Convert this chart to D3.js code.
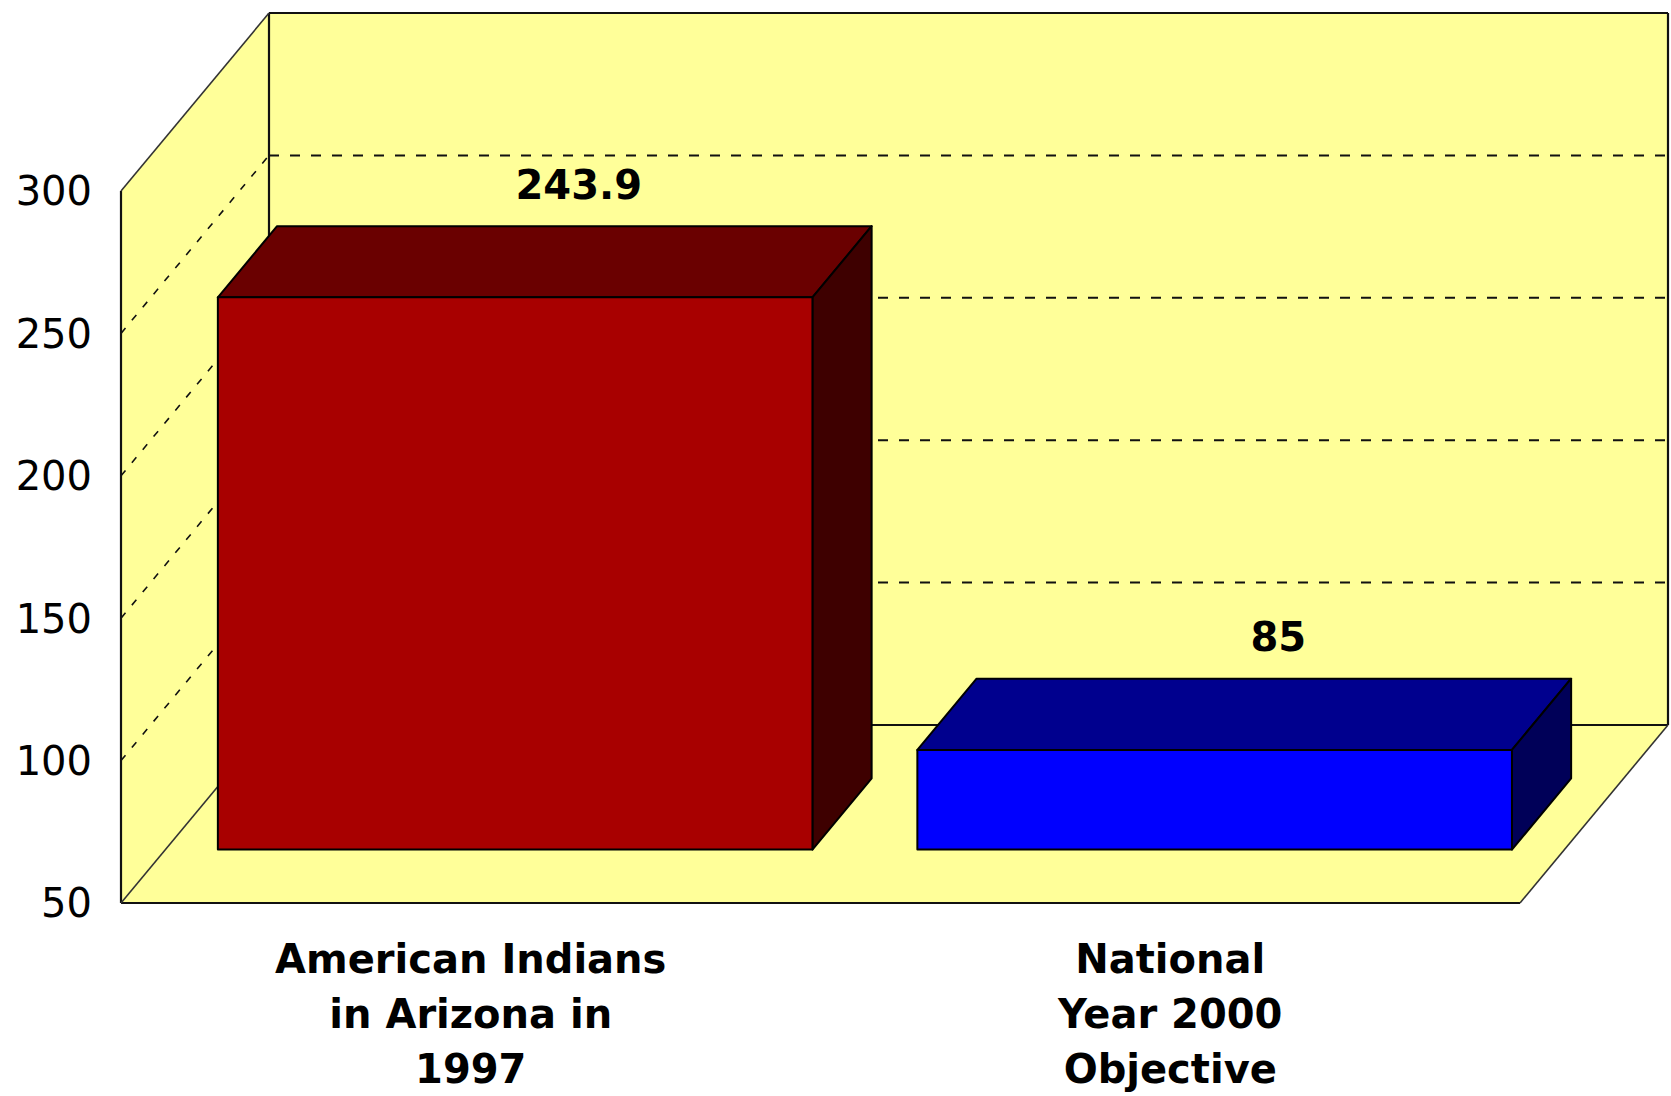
<!DOCTYPE html>
<html>
<head>
<meta charset="utf-8">
<script src="https://cdn.jsdelivr.net/npm/d3@7"></script>
<style>
    body { margin: 0; background: #fff; }
    svg { display: block; }
</style>
</head>
<body>
<svg width="1671" height="1096"></svg>
<script>
// chart data
var categories = ["American Indians in Arizona in 1997", "National Year 2000 Objective"];
var categoryLines = [["American Indians", "in Arizona in", "1997"], ["National", "Year 2000", "Objective"]];
var values = [243.9, 85];
var valueLabels = ["243.9", "85"];
var tickValues = [50, 100, 150, 200, 250, 300];
var gridValues = [100, 150, 200, 250];

var faceColors = [
    { front: "#a80000", top: "#6a0000", side: "#3e0000" },
    { front: "#0000ff", top: "#00008e", side: "#000058" }
];

// 3d box geometry (front plane + depth vector)
var left = 121, right = 1520;
var depthX = 148, depthY = -178;
var barFront = 0.3, barBack = 0.7;

var svg = d3.select("svg");

var y = d3.scaleLinear().domain([50, 300]).range([903, 191]);
var x = d3.scaleBand().domain(categories).range([left, right])
    .paddingInner(0.15).paddingOuter(0.075);

function pt(px, py, d) {
    return [px + depthX * d, py + depthY * d];
}

function poly(points, fill) {
    return svg.append("polygon")
        .attr("points", points.map(function(p) { return p.join(","); }).join(" "))
        .attr("fill", fill);
}

var yMin = y(50), yMax = y(300);

// walls and floor
poly([pt(left, yMin, 0), pt(left, yMax, 0), pt(left, yMax, 1), pt(left, yMin, 1)], "#ffff99");
poly([pt(left, yMax, 1), pt(right, yMax, 1), pt(right, yMin, 1), pt(left, yMin, 1)], "#ffff99");
poly([pt(left, yMin, 0), pt(left, yMin, 1), pt(right, yMin, 1), pt(right, yMin, 0)], "#ffff99");

// gridlines on back wall and left wall
var grid = svg.append("g")
    .attr("stroke", "#111")
    .attr("stroke-width", 2)
    .attr("stroke-dasharray", "10,11");
grid.selectAll("line.back").data(gridValues).enter()
    .append("line")
    .attr("x1", left + depthX).attr("x2", right + depthX)
    .attr("y1", function(d) { return y(d) + depthY; })
    .attr("y2", function(d) { return y(d) + depthY; });
grid.selectAll("line.side").data(gridValues).enter()
    .append("line")
    .attr("stroke-dasharray", "7,10")
    .attr("stroke-width", 1.6)
    .attr("x1", left).attr("x2", left + depthX)
    .attr("y1", function(d) { return y(d); })
    .attr("y2", function(d) { return y(d) + depthY; });

// wall outlines
var edges = [
    [pt(left, yMax, 1), pt(right, yMax, 1)],
    [pt(right, yMax, 1), pt(right, yMin, 1)],
    [pt(left, yMax, 1), pt(left, yMin, 1)],
    [pt(left, yMin, 1), pt(right, yMin, 1)],
    [pt(left, yMax, 0), pt(left, yMin, 0)],
    [pt(left, yMin, 0), pt(right, yMin, 0)]
];
svg.append("g").selectAll("line").data(edges).enter()
    .append("line")
    .attr("x1", function(d) { return d[0][0]; })
    .attr("y1", function(d) { return d[0][1]; })
    .attr("x2", function(d) { return d[1][0]; })
    .attr("y2", function(d) { return d[1][1]; })
    .attr("stroke", "#111")
    .attr("stroke-width", 2.2);
var thinEdges = [
    [pt(left, yMax, 0), pt(left, yMax, 1)],
    [pt(left, yMin, 0), pt(left, yMin, 1)],
    [pt(right, yMin, 0), pt(right, yMin, 1)]
];
svg.append("g").selectAll("line").data(thinEdges).enter()
    .append("line")
    .attr("x1", function(d) { return d[0][0]; })
    .attr("y1", function(d) { return d[0][1]; })
    .attr("x2", function(d) { return d[1][0]; })
    .attr("y2", function(d) { return d[1][1]; })
    .attr("stroke", "#333")
    .attr("stroke-width", 1.6);

// bars
categories.forEach(function(c, i) {
    var x0 = x(c), x1 = x(c) + x.bandwidth();
    var yt = y(values[i]), yb = y(50);
    var col = faceColors[i];
    var g = svg.append("g").attr("stroke", "#000").attr("stroke-width", 2).attr("stroke-linejoin", "round");
    var pts = function(px, py, d) { return pt(px, py, d).join(","); };
    g.append("polygon")
        .attr("points", [pts(x0, yt, barFront), pts(x1, yt, barFront), pts(x1, yt, barBack), pts(x0, yt, barBack)].join(" "))
        .attr("fill", col.top);
    g.append("polygon")
        .attr("points", [pts(x1, yt, barFront), pts(x1, yt, barBack), pts(x1, yb, barBack), pts(x1, yb, barFront)].join(" "))
        .attr("fill", col.side);
    g.append("polygon")
        .attr("points", [pts(x0, yt, barFront), pts(x1, yt, barFront), pts(x1, yb, barFront), pts(x0, yb, barFront)].join(" "))
        .attr("fill", col.front);
});

// value labels
svg.append("g").selectAll("text").data(values).enter()
    .append("text")
    .attr("x", function(d, i) { return x(categories[i]) + x.bandwidth() / 2 + depthX * 0.73; })
    .attr("y", function(d) { return y(d) + depthY * 0.72 - 24; })
    .attr("text-anchor", "middle")
    .attr("font-family", "DejaVu Sans")
    .attr("font-weight", "bold")
    .attr("font-size", "40px")
    .text(function(d, i) { return valueLabels[i]; });

// y tick labels
svg.append("g").selectAll("text").data(tickValues).enter()
    .append("text")
    .attr("x", 92)
    .attr("y", function(d) { return y(d); })
    .attr("dy", "0.36em")
    .attr("text-anchor", "end")
    .attr("font-family", "DejaVu Sans")
    .attr("font-size", "40px")
    .text(function(d) { return d; });

// category labels
var xFront = d3.scaleBand().domain(categories).range([left, right]);
categories.forEach(function(c, i) {
    svg.append("text")
        .attr("x", xFront(c) + xFront.bandwidth() / 2)
        .attr("y", 973)
        .attr("text-anchor", "middle")
        .attr("font-family", "DejaVu Sans")
        .attr("font-weight", "bold")
        .attr("font-size", "40px")
        .selectAll("tspan").data(categoryLines[i]).enter()
        .append("tspan")
        .attr("x", xFront(c) + xFront.bandwidth() / 2)
        .attr("dy", function(d, j) { return j === 0 ? 0 : 55; })
        .text(function(d) { return d; });
});
</script>
</body>
</html>
